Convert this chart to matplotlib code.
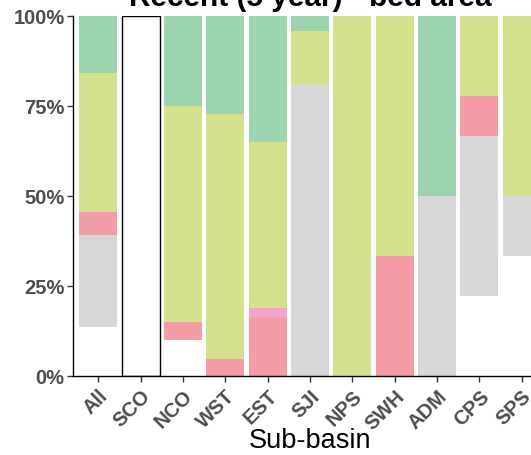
import matplotlib
matplotlib.use("Agg")
import matplotlib.pyplot as plt
import numpy as np

plt.rcParams['font.family'] = ['Liberation Sans', 'DejaVu Sans']

categories = ["All", "SCO", "NCO", "WST", "EST", "SJI", "NPS", "SWH", "ADM", "CPS", "SPS"]

# stacked segment shares (%), bottom to top
blank  = [13.6, 0, 10.0, 0, 0, 0, 0, 0, 0, 22.2, 33.3]
nodata = [0, 100, 0, 0, 0, 0, 0, 0, 0, 0, 0]
grey   = [25.6, 0, 0, 0, 0, 80.9, 0, 0, 50.0, 44.5, 16.7]
red    = [6.3, 0, 5.0, 4.6, 16.4, 0, 0, 33.3, 0, 11.1, 0]
pink   = [0, 0, 0, 0, 2.5, 0, 0, 0, 0, 0, 0]
yellow = [38.7, 0, 60.0, 68.2, 46.1, 14.9, 100, 66.7, 0, 22.2, 50.0]
teal   = [15.8, 0, 25.0, 27.2, 35.0, 4.2, 0, 0, 50.0, 0, 0]

series = [
    (blank,  "#FFFFFF", "none", 0.0),
    (nodata, "#FFFFFF", "#000000", 1.0),
    (grey,   "#D7D7D7", "none", 0.0),
    (red,    "#F29CA6", "none", 0.0),
    (pink,   "#F4A3CB", "none", 0.0),
    (yellow, "#D3E18C", "none", 0.0),
    (teal,   "#9CD4B0", "none", 0.0),
]

fig = plt.figure(figsize=(5.31, 4.56), dpi=100)
ax = fig.add_axes([73/531, 79/456, 474/531, 360/456])

x = np.arange(len(categories))
bottom = np.zeros(len(categories))
for vals, fc, ec, lw in series:
    v = np.array(vals, dtype=float) / 100.0
    mask = v > 0
    ax.bar(x[mask], v[mask], bottom=bottom[mask], width=0.9, color=fc,
           edgecolor=ec, linewidth=lw)
    bottom += v

ax.set_xlim(-0.6, len(categories) - 0.4)
ax.set_ylim(0, 1)
ax.set_yticks([0, 0.25, 0.5, 0.75, 1.0])
ax.set_yticklabels(["0%", "25%", "50%", "75%", "100%"])
ax.set_xticks(x)
ax.set_xticklabels(categories, rotation=45, ha="right", va="top",
                   rotation_mode="anchor")

for lab in ax.get_yticklabels():
    lab.set_fontweight("bold")
    lab.set_fontsize(14.5)
    lab.set_color("#4D4D4D")
for lab in ax.get_xticklabels():
    lab.set_fontweight("bold")
    lab.set_fontsize(14.5)
    lab.set_color("#4D4D4D")

ax.tick_params(axis="both", length=4, width=1, color="#333333", pad=2)
ax.tick_params(axis="x", pad=3)
for s in ["top", "right"]:
    ax.spines[s].set_visible(False)
for s in ["left", "bottom"]:
    ax.spines[s].set_color("#000000")
    ax.spines[s].set_linewidth(1.0)
    ax.spines[s].set_zorder(3)

ax.set_xlabel("Sub-basin", fontsize=19.5, color="#000000")
ax.xaxis.set_label_coords(0.5, -0.142)
ax.xaxis.label.set_va("top")
ax.set_title("Recent (5 year) - bed area", fontsize=21.5, fontweight="bold", pad=8)

fig.savefig("out.png", dpi=100)
